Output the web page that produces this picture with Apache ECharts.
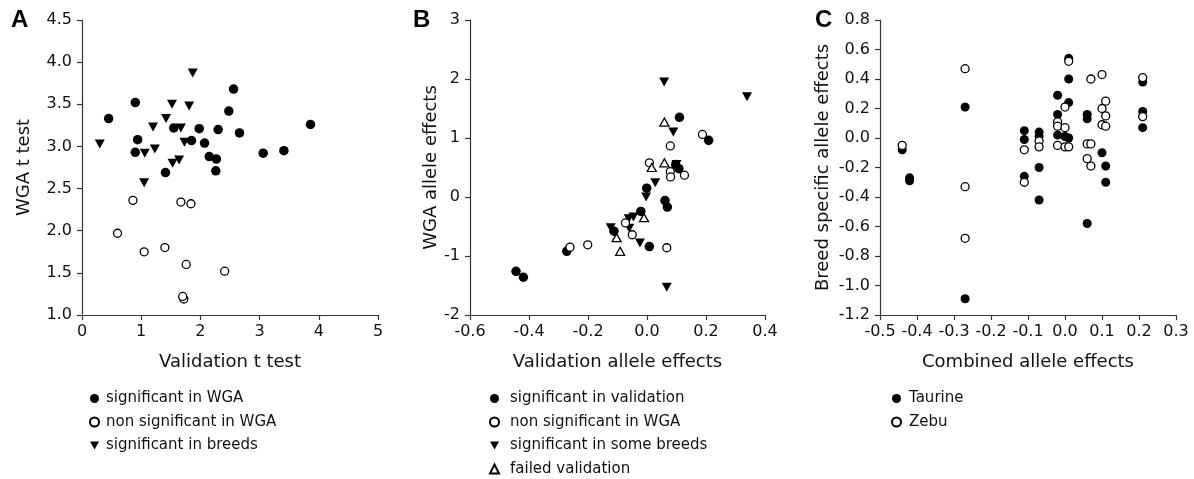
<!DOCTYPE html>
<html>
<head>
<meta charset="utf-8">
<script src="https://cdn.jsdelivr.net/npm/echarts@6/dist/echarts.min.js"></script>
<style>
html,body{margin:0;padding:0;background:#fff;}
#c{width:1194px;height:479px;}
</style>
</head>
<body>
<div id="c"></div>
<script>
// ---- Panel A: WGA t test vs Validation t test ----
var aSigWGA = [[0.45,3.33],[0.90,3.52],[0.94,3.08],[0.90,2.93],[1.41,2.69],[1.55,3.22],[1.85,3.07],[1.98,3.21],[2.07,3.04],[2.15,2.88],[2.27,2.85],[2.26,2.71],[2.30,3.20],[2.48,3.42],[2.56,3.68],[2.66,3.16],[3.06,2.92],[3.41,2.95],[3.86,3.26]];
var aNonSig = [[0.60,1.97],[0.86,2.36],[1.05,1.75],[1.40,1.80],[1.67,2.34],[1.84,2.32],[1.76,1.60],[2.41,1.52],[1.72,1.19],[1.70,1.22]];
var aBreeds = [[0.30,3.03],[1.06,2.92],[1.05,2.57],[1.20,3.23],[1.23,2.97],[1.42,3.33],[1.52,3.50],[1.53,2.80],[1.64,2.84],[1.67,3.22],[1.73,3.05],[1.81,3.48],[1.87,3.87]];

// ---- Panel B: WGA allele effects vs Validation allele effects ----
var bSigVal = [[-0.444,-1.26],[-0.419,-1.36],[-0.272,-0.92],[-0.112,-0.58],[-0.021,-0.245],[-0.001,0.15],[0.008,-0.84],[0.061,-0.06],[0.069,-0.17],[0.097,0.55],[0.108,0.48],[0.110,1.35],[0.209,0.96]];
var bNonSig = [[-0.261,-0.85],[-0.201,-0.81],[-0.073,-0.44],[-0.050,-0.64],[0.008,0.58],[0.079,0.865],[0.079,0.43],[0.080,0.34],[0.127,0.37],[0.067,-0.86],[0.188,1.06]];
var bBreeds = [[-0.123,-0.52],[-0.062,-0.37],[-0.060,-0.53],[-0.046,-0.34],[-0.024,-0.78],[-0.003,0.0],[0.028,0.24],[0.058,1.95],[0.089,1.10],[0.100,0.55],[0.067,-1.53],[0.339,1.70]];
var bFailed = [[-0.103,-0.69],[-0.091,-0.92],[-0.010,-0.35],[0.016,0.50],[0.059,1.27],[0.059,0.58]];

// ---- Panel C: Breed specific allele effects vs Combined allele effects ----
var cTaurine = [[-0.44,-0.08],[-0.42,-0.27],[-0.42,-0.29],[-0.27,0.21],[-0.27,-1.09],[-0.11,0.05],[-0.11,-0.01],[-0.11,-0.26],[-0.07,0.04],[-0.07,0.01],[-0.07,-0.20],[-0.07,-0.42],[-0.02,0.29],[-0.02,0.16],[-0.02,0.02],[0.00,0.01],[0.01,0.00],[0.01,0.54],[0.01,0.40],[0.01,0.24],[0.06,0.16],[0.06,0.13],[0.06,-0.58],[0.10,-0.10],[0.11,-0.19],[0.11,-0.30],[0.21,0.38],[0.21,0.18],[0.21,0.07]];
var cZebu = [[-0.44,-0.05],[-0.27,0.47],[-0.27,-0.33],[-0.27,-0.68],[-0.11,-0.08],[-0.11,-0.30],[-0.07,-0.02],[-0.07,-0.06],[-0.02,0.11],[-0.02,0.08],[-0.02,-0.05],[0.00,0.21],[0.00,0.07],[0.00,-0.06],[0.01,-0.06],[0.01,0.52],[0.06,-0.04],[0.07,-0.04],[0.06,-0.14],[0.07,-0.19],[0.07,0.40],[0.10,0.43],[0.11,0.25],[0.10,0.20],[0.11,0.15],[0.10,0.09],[0.11,0.08],[0.21,0.41],[0.21,0.145]];

// axis titles
var xTitles = ['Validation t test','Validation allele effects','Combined allele effects'];
var yTitles = ['WGA t test','WGA allele effects','Breed specific allele effects'];
var panelLetters = ['A','B','C'];

var FONT = 'DejaVu Sans';
var AX = '#333';
var DOWN_TRI = 'path://M0,0L10,0L5,9Z';

function fmt1(v){ return (Math.round(v*10)/10).toFixed(1); }
function fmt0(v){ return String(Math.round(v)); }

function xAxisCfg(idx, min, max, itv, f){
  return {
    type:'value', gridIndex:idx, min:min, max:max, interval:itv,
    name:xTitles[idx], nameLocation:'middle', nameGap:38,
    nameTextStyle:{fontFamily:FONT,fontSize:18,color:'#111'},
    axisLine:{show:true,onZero:false,lineStyle:{color:AX,width:1.2}},
    axisTick:{show:true,length:5,lineStyle:{color:AX,width:1.2}},
    axisLabel:{fontFamily:FONT,fontSize:16,color:'#111',margin:9,formatter:f,showMinLabel:true,showMaxLabel:true,hideOverlap:false},
    splitLine:{show:false}
  };
}
function yAxisCfg(idx, min, max, itv, f, gap){
  return {
    type:'value', gridIndex:idx, min:min, max:max, interval:itv,
    name:yTitles[idx], nameLocation:'middle', nameGap:gap, nameRotate:90,
    nameTextStyle:{fontFamily:FONT,fontSize:18,color:'#111'},
    axisLine:{show:true,onZero:false,lineStyle:{color:AX,width:1.2}},
    axisTick:{show:true,length:5,lineStyle:{color:AX,width:1.2}},
    axisLabel:{fontFamily:FONT,fontSize:16,color:'#111',margin:10,formatter:f,showMinLabel:true,showMaxLabel:true},
    splitLine:{show:false}
  };
}

var filled = {color:'#000',opacity:1};
var open = {color:'#fff',borderColor:'#000',borderWidth:1.3,opacity:1};

function sc(name, idx, data, symbol, size, style, z){
  return {type:'scatter', name:name, xAxisIndex:idx, yAxisIndex:idx, data:data,
    symbol:symbol, symbolSize:size, itemStyle:style, z:z||2, silent:true, animation:false};
}

var legendText = {fontFamily:FONT,fontSize:15,color:'#111'};

function legendCfg(left, padLeft, names){
  return {orient:'vertical',left:left,top:391,padding:0,itemWidth:9,itemHeight:9,itemGap:8.5,
    textStyle:Object.assign({padding:[0,0,0,padLeft]},legendText), data:names};
}

var option = {
  animation:false,
  backgroundColor:'#fff',
  title:[
    {text:panelLetters[0],left:11,top:8,padding:0,textStyle:{fontFamily:'Liberation Sans',fontWeight:'bold',fontSize:24,color:'#000'}},
    {text:panelLetters[1],left:413,top:8,padding:0,textStyle:{fontFamily:'Liberation Sans',fontWeight:'bold',fontSize:24,color:'#000'}},
    {text:panelLetters[2],left:815,top:8,padding:0,textStyle:{fontFamily:'Liberation Sans',fontWeight:'bold',fontSize:24,color:'#000'}}
  ],
  grid:[
    {left:82,top:20,width:296,height:295},
    {left:470,top:20,width:295,height:295},
    {left:880,top:20,width:296,height:295}
  ],
  xAxis:[
    xAxisCfg(0,0,5,1,fmt0),
    xAxisCfg(1,-0.6,0.4,0.2,fmt1),
    xAxisCfg(2,-0.5,0.3,0.1,fmt1)
  ],
  yAxis:[
    yAxisCfg(0,1,4.5,0.5,fmt1,49),
    yAxisCfg(1,-2,3,1,fmt0,26),
    yAxisCfg(2,-1.2,0.8,0.2,fmt1,48)
  ],
  legend:[
    legendCfg(89,2,['significant in WGA','non significant in WGA','significant in breeds']),
    legendCfg(489,6,['significant in validation','non significant in WGA','significant in some breeds','failed validation']),
    legendCfg(891,3,['Taurine','Zebu'])
  ],
  series:[
    sc('significant in WGA',0,aSigWGA,'circle',9.5,filled),
    sc('non significant in WGA',0,aNonSig,'circle',8,open,3),
    sc('significant in breeds',0,aBreeds,DOWN_TRI,[10,9],filled),
    sc('significant in validation',1,bSigVal,'circle',9.5,filled),
    sc('non significant in WGA',1,bNonSig,'circle',8,open,3),
    sc('significant in some breeds',1,bBreeds,DOWN_TRI,[10,9],filled),
    sc('failed validation',1,bFailed,'triangle',[9,8],open,4),
    sc('Taurine',2,cTaurine,'circle',9,filled),
    sc('Zebu',2,cZebu,'circle',8,open,3)
  ]
};

var chart = echarts.init(document.getElementById('c'), null, {renderer:'canvas'});
chart.setOption(option);
</script>
</body>
</html>
